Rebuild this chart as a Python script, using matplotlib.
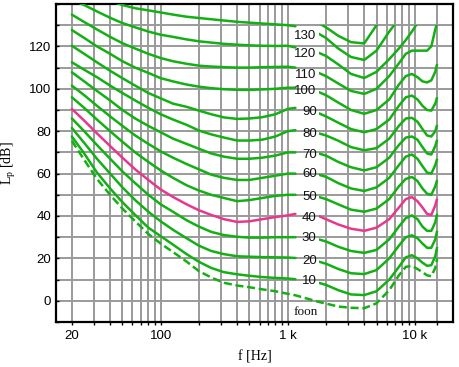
import numpy as np
import matplotlib
matplotlib.use("Agg")
import matplotlib.pyplot as plt
from matplotlib.ticker import FixedLocator, NullFormatter

plt.rcParams['mathtext.fontset'] = 'custom'
plt.rcParams['mathtext.rm'] = 'Liberation Serif'

nan = np.nan
freqs = [20, 25, 31.5, 40, 50, 63, 80, 100, 125, 160, 200, 250, 315, 400, 500, 630, 800,
         1000, 1150, 1750, 2000, 2500, 3150, 4000, 5000, 6300, 7500, 8500, 9500, 10500,
         11500, 12500, 13500, 14500, 15000]

threshold = [75.5, 66.5, 57.5, 50, 43.5, 37.5, 31.5, 27, 23, 18.5, 14, 11, 8.5, 7.2, 6.4, 5.4, 4.5,
             3.3, 2.6, -0.5, -1.3, -2.7, -3.3, -3.5, -1.2, 5, 12, 16, 16.5, 15,
             13.5, 12, 11.6, 15.5, 20]
phon10 = [77.5, 69.5, 60.5, 53, 46.5, 40.5, 34.5, 30.5, 26.5, 22, 18.4, 15.5, 13.5, 12.5, 11.8, 11.2, 10.8,
          10.5, 10.2, 8.5, 7.5, 5, 3, 2.7, 4.5, 10, 16, 20.5, 21.5, 20,
          18, 16.5, 16.8, 21, 25.4]
phon20 = [81.5, 74.5, 67, 60, 53.5, 47.5, 42, 37.5, 33.5, 29.5, 26, 23.5, 22, 21, 20.8, 20.6, 20.5,
          20.4, 20.2, 18.5, 17.5, 15, 13, 12.6, 14.5, 20, 26, 30, 30.9, 29.5,
          27, 25, 25, 29, 33]
phon30 = [86, 80, 73.5, 67, 61, 55.5, 50, 45.5, 42, 38, 35, 32.5, 31, 30.2, 29.8, 29.8, 30,
          30, 30, 29, 28, 25.5, 23.5, 22.6, 24, 29, 35, 39, 40.3, 38.5,
          35, 33, 33, 37, 41]
phon40 = [90.5, 85, 79, 73, 67.5, 62, 57, 52.5, 49, 45.5, 42.7, 40.5, 38.5, 37.2, 37.5, 38.5, 39.5,
          40.3, 41, 40, 38.5, 36, 34, 33, 34.5, 38.5, 44, 48, 48.9, 47,
          44, 41, 40.5, 45, 48.2]
phon50 = [96, 91, 85.5, 80, 75, 70, 65.5, 61.5, 58, 54.5, 52, 50, 48.5, 47, 47.5, 48.5, 49.5,
          50, 50, 49, 48, 45.5, 43, 42, 43.5, 48, 54, 57.5, 58.4, 56.5,
          53, 50.5, 50, 54, 57]
phon60 = [101.5, 97, 92, 87, 82.5, 78, 74, 70.5, 67.5, 64.5, 62, 59.5, 58, 57, 57, 58, 59,
          60, 60, 59.5, 58.5, 55.5, 53, 51.8, 53.5, 58, 64, 68, 69, 67,
          63.5, 60.5, 60, 64, 67]
phon70 = [107.8, 103.5, 99, 94.5, 90, 86, 82.5, 79.5, 76.5, 74, 71.7, 69.5, 68, 67, 67, 67.5, 68.5,
          70, 70, 69.5, 68.5, 65.5, 63, 61.5, 63, 67.5, 73.5, 77, 77.5, 76,
          72.5, 69.5, 69, 73, 76]
phon80 = [112.5, 109, 105.5, 101.5, 98, 94.5, 91, 88, 85.5, 83, 80.3, 78.5, 77, 75.6, 75.6, 76, 77.5,
          80, 80.5, 79, 78, 75.5, 72.5, 71, 72, 76.5, 82.5, 86, 86.3, 84.5,
          81, 78, 77.5, 80, 83]
phon90 = [120.3, 116.5, 112.5, 108.5, 105, 101.5, 98, 95.5, 93, 91.5, 89.7, 88, 86.5, 85.8, 86, 86.6, 88,
          90.5, 91, 88.5, 87, 84, 81, 79.5, 81, 85.5, 92, 96, 96.8, 95,
          92, 90, 89.7, 93, 96]
phon100 = [127.7, 124, 120, 116.5, 113, 110, 107.5, 105, 103.5, 102, 101, 100.3, 99.8, 99.5, 99.5, 99.7, 100,
           100.5, 100.5, 98.5, 97, 93.5, 90, 88.2, 90, 95, 102, 106, 107, 105.5,
           103.5, 103, 104, 108, 111.7]
phon110 = [135, 131.5, 128, 124.5, 121.5, 119, 116.5, 114.5, 113, 111.8, 110.9, 110.5, 110.2, 110, 110, 110.2, 110.3,
           110.4, 110, 107.5, 106, 102.5, 99, 97.6, 100, 106, 112, 116.5, 118, 118,
           118, 118, 120, 128, 131]
phon120 = [142, 139.5, 136.5, 133.5, 131, 129, 127, 125.5, 124.5, 123.3, 122.4, 121.8, 121.2, 120.8, 120.5, 120.3, 120.2,
           120.3, 119.5, 117, 115.5, 111.5, 107, 105.1, 108, 114, 119, 123, 127, 131,
           nan, nan, nan, nan, nan]
phon130 = [150, 147, 144, 141.5, 139.5, 138, 137, 136, 135, 134, 133.4, 132.8, 132.2, 131.6, 131.2, 130.8, 130.4,
           130, 129.5, 126, 124, 119, 115, 113.6, 118, 127, 133, nan, nan, nan,
           nan, nan, nan, nan, nan]
phon140 = [nan, nan, nan, nan, nan, nan, nan, nan, nan, nan, nan, nan, nan, nan, nan, nan, 142,
           140, 138.5, 131, 129, 125, 122, 121.4, 130, 136, nan, nan, nan, nan,
           nan, nan, nan, nan, nan]

contours = [phon10, phon20, phon30, phon40, phon50, phon60, phon70, phon80, phon90,
            phon100, phon110, phon120, phon130]
contour_labels = ["10", "20", "30", "40", "50", "60", "70", "80", "90",
                  "100", "110", "120", "130"]
label_levels = [9.5, 18.8, 29.8, 39.2, 49.0, 60.0, 69.0, 78.8, 88.9, 98.8, 106.7, 116.4, 125.0]

green = "#13b013"
pink = "#e8388e"
grid_col = "#9a9a9a"

fig = plt.figure(figsize=(4.59, 3.67), dpi=100)
ax = fig.add_axes([56/459, 1-322/367, (453-56)/459, (322-4)/367])
ax.set_xscale('log')
ax.set_xlim(15, 20000)
ax.set_ylim(-10, 140)

f = np.array(freqs)
left = f <= 1150
right = f >= 1750
LW = 1.8


def clip_to(line, x0):
    # curves on the right-hand side stop at 130 dB
    r = matplotlib.patches.Rectangle((x0, -20), 20000, 150, transform=ax.transData,
                                     visible=False)
    ax.add_patch(r)
    line.set_clip_path(r)


for vals, lab in zip(contours, contour_labels):
    v = np.array(vals, dtype=float)
    col = pink if lab == "40" else green
    ax.plot(f[left], v[left], color=col, lw=LW, solid_capstyle='round', zorder=3)
    ln, = ax.plot(f[right], v[right], color=col, lw=LW, solid_capstyle='butt', zorder=3)
    clip_to(ln, 1750)

v = np.array(phon140, dtype=float)
ln, = ax.plot(f, v, color=green, lw=LW, solid_capstyle='butt', zorder=3)
clip_to(ln, 100)

t = np.array(threshold, dtype=float)
ax.plot(f, t, color=green, lw=LW, linestyle=(0, (3.2, 1.5)), zorder=3)

for lab, lev in zip(contour_labels, label_levels):
    ax.text(1690, lev, lab, ha='right', va='center', fontsize=9.5,
            family='Liberation Sans', color='#111111', zorder=4)
ax.text(1380, -5.2, "foon", ha='center', va='center', fontsize=9.5,
        family='Liberation Serif', color='#111111', zorder=4)

grid_x = [20, 30, 40, 50, 60, 70, 80, 90, 100, 200, 300, 400, 500, 600, 700, 800, 900,
          1000, 2000, 3000, 4000, 5000, 6000, 7000, 8000, 9000, 10000, 15000]
ax.xaxis.set_major_locator(FixedLocator([20, 100, 1000, 10000]))
ax.set_xticklabels(["20", "100", "1 k", "10 k"])
ax.xaxis.set_minor_locator(FixedLocator(grid_x))
ax.xaxis.set_minor_formatter(NullFormatter())
ax.set_yticks([0, 20, 40, 60, 80, 100, 120])
ax.set_yticks(list(range(-10, 141, 10)), minor=True)
for xv in grid_x:
    ax.axvline(xv, color=grid_col, lw=1.4, zorder=1)
for yv in range(-10, 141, 10):
    ax.axhline(yv, color=grid_col, lw=1.4, zorder=1)

ax.tick_params(axis='both', which='both', length=2, width=1, labelsize=9.5)
ax.tick_params(axis='y', which='both', direction='in')
ax.tick_params(axis='x', which='both', direction='out')
for lbl in ax.get_xticklabels() + ax.get_yticklabels():
    lbl.set_family('Liberation Sans')
for s in ax.spines.values():
    s.set_linewidth(1.6)
    s.set_color('black')

ax.set_xlabel("f [Hz]", family='Liberation Serif', fontsize=10, labelpad=6)
ax.set_ylabel(r"L$_\mathrm{p}$ [dB]", family='Liberation Serif', fontsize=10, labelpad=8)

fig.savefig("out.png", dpi=100)
